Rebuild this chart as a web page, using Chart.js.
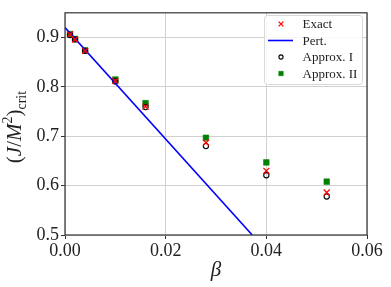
<!DOCTYPE html>
<html>
<head>
<meta charset="utf-8">
<script src="https://cdn.jsdelivr.net/npm/chart.js@4/dist/chart.umd.min.js"></script>
<style>
    html, body { margin: 0; padding: 0; background: #fff; }
    #wrap { width: 391px; height: 287px; }
</style>
</head>
<body>
<div id="wrap"><canvas id="critChart" width="391" height="287"></canvas></div>
<script>
// Data
const betaValues = [0.001, 0.002, 0.004, 0.010, 0.016, 0.028, 0.040, 0.052];
const exactValues = [0.906, 0.896, 0.873, 0.812, 0.760, 0.687, 0.630, 0.586];
const approx1Values = [0.905, 0.896, 0.873, 0.811, 0.759, 0.680, 0.621, 0.578];
const approx2Values = [0.907, 0.897, 0.874, 0.815, 0.767, 0.697, 0.647, 0.608];
const pertBeta = [0, 0.0372];
const pertValues = [0.920, 0.500];
const xTicks = [0, 0.02, 0.04, 0.06];
const yTicks = [0.5, 0.6, 0.7, 0.8, 0.9];

const serif = "'Liberation Serif', 'DejaVu Serif', serif";

function toPoints(xs, ys) {
    return xs.map((x, i) => ({ x: x, y: ys[i] }));
}

// Frame round the plot area (all four spines)
const framePlugin = {
    id: 'frame',
    afterDatasetsDraw(chart) {
        const { ctx, chartArea: a } = chart;
        ctx.save();
        ctx.strokeStyle = '#333';
        ctx.lineWidth = 1.2;
        ctx.strokeRect(a.left, a.top, a.right - a.left, a.bottom - a.top);
        ctx.restore();
    }
};

// Axis titles with sub/superscripts
const titlesPlugin = {
    id: 'titles',
    afterDraw(chart) {
        const ctx = chart.ctx;
        ctx.save();
        ctx.fillStyle = '#222';
        ctx.textBaseline = 'alphabetic';

        // x title
        ctx.font = 'italic 21px ' + serif;
        ctx.textAlign = 'center';
        ctx.fillText('\u03b2', 216, 276);

        // y title: (J/M^2)_crit
        const parts = [
            { t: '(', f: '21px ' + serif, dy: 0 },
            { t: 'J', f: 'italic 21px ' + serif, dy: 0 },
            { t: '/', f: '21px ' + serif, dy: 0 },
            { t: 'M', f: 'italic 21px ' + serif, dy: 0 },
            { t: '2', f: '14px ' + serif, dy: -9 },
            { t: ')', f: '21px ' + serif, dy: 0 },
            { t: 'crit', f: '14px ' + serif, dy: 5 }
        ];
        let total = 0;
        parts.forEach(p => { ctx.font = p.f; p.w = ctx.measureText(p.t).width; total += p.w; });
        ctx.translate(21, 127);
        ctx.rotate(-Math.PI / 2);
        ctx.textAlign = 'left';
        let x = -total / 2;
        parts.forEach(p => {
            ctx.font = p.f;
            ctx.fillText(p.t, x, p.dy);
            x += p.w;
        });
        ctx.restore();
    }
};

// Legend box inside the plot, upper right
const legendPlugin = {
    id: 'boxLegend',
    afterDraw(chart) {
        const ctx = chart.ctx;
        const box = { x: 264.5, y: 15.5, w: 98, h: 69 };
        ctx.save();
        ctx.beginPath();
        ctx.roundRect(box.x, box.y, box.w, box.h, 3);
        ctx.fillStyle = 'rgba(255,255,255,0.85)';
        ctx.fill();
        ctx.strokeStyle = '#d8d8d8';
        ctx.lineWidth = 1;
        ctx.stroke();

        const rows = [24, 40.5, 57, 73.5];
        const order = [0, 1, 2, 3];
        ctx.font = '13px ' + serif;
        ctx.textBaseline = 'middle';
        ctx.textAlign = 'left';
        order.forEach((di, i) => {
            const ds = chart.data.datasets[di];
            const y = rows[i];
            if (ds.showLine) {
                ctx.beginPath();
                ctx.moveTo(268, y);
                ctx.lineTo(293, y);
                ctx.strokeStyle = ds.borderColor;
                ctx.lineWidth = ds.borderWidth;
                ctx.stroke();
            } else {
                ctx.strokeStyle = ds.borderColor;
                ctx.fillStyle = ds.backgroundColor;
                ctx.lineWidth = ds.borderWidth;
                Chart.helpers.drawPoint(ctx, {
                    pointStyle: ds.pointStyle,
                    radius: ds.pointRadius * 0.8,
                    borderWidth: ds.borderWidth,
                    rotation: 0
                }, 281, y);
            }
            ctx.fillStyle = '#222';
            ctx.fillText(ds.label, 302.5, y + 1);
        });
        ctx.restore();
    }
};

function initChart() {
    const ctx = document.getElementById('critChart').getContext('2d');
    return new Chart(ctx, {
        type: 'scatter',
        data: {
            datasets: [
                {
                    label: 'Exact',
                    data: toPoints(betaValues, exactValues),
                    pointStyle: 'crossRot',
                    pointRadius: 4.2,
                    borderColor: '#ff0000',
                    backgroundColor: '#ff0000',
                    borderWidth: 1.3,
                    showLine: false
                },
                {
                    label: 'Pert.',
                    data: toPoints(pertBeta, pertValues),
                    showLine: true,
                    pointRadius: 0,
                    borderColor: '#0000ff',
                    backgroundColor: '#0000ff',
                    borderWidth: 1.6
                },
                {
                    label: 'Approx. I',
                    data: toPoints(betaValues, approx1Values),
                    pointStyle: 'circle',
                    pointRadius: 2.6,
                    borderColor: '#000000',
                    backgroundColor: 'rgba(0,0,0,0)',
                    borderWidth: 1.1,
                    showLine: false
                },
                {
                    label: 'Approx. II',
                    data: toPoints(betaValues, approx2Values),
                    pointStyle: 'rect',
                    pointRadius: 4,
                    borderColor: '#008000',
                    backgroundColor: '#008000',
                    borderWidth: 0.5,
                    showLine: false
                }
            ]
        },
        options: {
            responsive: false,
            animation: false,
            layout: { padding: { top: 10, right: 24, left: 0, bottom: 0 } },
            plugins: {
                legend: { display: false },
                tooltip: { enabled: false }
            },
            scales: {
                x: {
                    type: 'linear',
                    min: 0,
                    max: 0.06,
                    afterBuildTicks: s => { s.ticks = xTicks.map(v => ({ value: v })); },
                    afterFit: s => { s.height = 52; },
                    grid: { color: '#d0d0d0', tickColor: '#333', tickLength: 4, lineWidth: 1 },
                    border: { display: false },
                    ticks: {
                        color: '#222',
                        padding: 1,
                        maxRotation: 0,
                        font: { family: serif, size: 18 },
                        callback: v => v.toFixed(2)
                    }
                },
                y: {
                    type: 'linear',
                    min: 0.5,
                    max: 0.95,
                    afterBuildTicks: s => { s.ticks = yTicks.map(v => ({ value: v })); },
                    afterFit: s => { s.width = 65; },
                    grid: { color: '#d0d0d0', tickColor: '#333', tickLength: 4, lineWidth: 1 },
                    border: { display: false },
                    ticks: {
                        color: '#222',
                        padding: 2,
                        font: { family: serif, size: 18 },
                        callback: v => v.toFixed(1)
                    }
                }
            }
        },
        plugins: [framePlugin, titlesPlugin, legendPlugin]
    });
}

document.addEventListener('DOMContentLoaded', initChart);
</script>
</body>
</html>
